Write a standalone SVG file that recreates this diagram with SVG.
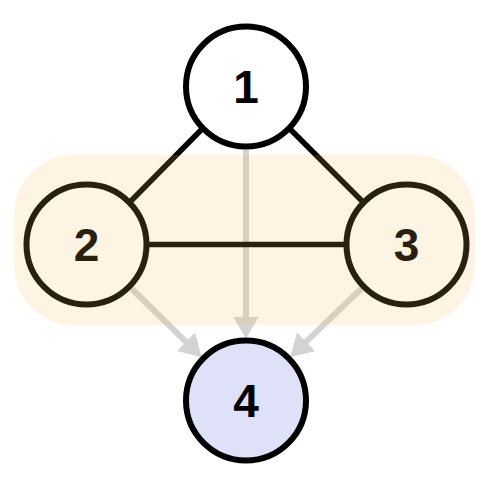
<svg xmlns="http://www.w3.org/2000/svg" width="494" height="492" viewBox="0 0 494 492">
<style>
.node circle{stroke:#000;stroke-width:6}
.node text{font-family:"Liberation Sans",Arial,sans-serif;font-weight:bold;font-size:46px;text-anchor:middle;fill:#000}
.edge{stroke:#000;stroke-width:5.5;fill:none}
.arrow{stroke:#d3d3d3;stroke-width:6;fill:none}
</style>
<defs>
<marker id="ah" viewBox="0 0 22 26" refX="0.5" refY="13" markerWidth="22" markerHeight="26" markerUnits="userSpaceOnUse" orient="auto">
<path d="M0,0 L22,13 L0,26 z" fill="#d3d3d3"/>
</marker>
</defs>
<rect width="494" height="492" fill="#fff"/>
<g id="connectors">
<line class="arrow" x1="246" y1="150" x2="246" y2="317" marker-end="url(#ah)"/>
<line class="arrow" x1="131.5" y1="288.5" x2="186.3" y2="342.1" marker-end="url(#ah)"/>
<line class="arrow" x1="361.5" y1="288.5" x2="305.7" y2="342.1" marker-end="url(#ah)"/>
<line class="edge" x1="202" y1="129" x2="130" y2="202"/>
<line class="edge" x1="290" y1="129" x2="363" y2="202"/>
<line class="edge" x1="147" y1="244.5" x2="346" y2="244.5"/>
</g>
<g id="n1" class="node"><circle cx="246" cy="86.5" r="60" fill="#fff"/><text x="246" y="103">1</text></g>
<g id="n2" class="node"><circle cx="86.5" cy="244.5" r="60" fill="#fff"/><text x="86.5" y="261">2</text></g>
<g id="n3" class="node"><circle cx="406.5" cy="244.5" r="60" fill="#fff"/><text x="406.5" y="261">3</text></g>
<g id="n4" class="node"><circle cx="246" cy="400.5" r="60" fill="#dee1f8"/><text x="246" y="417">4</text></g>
<g id="group">
<rect x="14" y="155" width="461" height="170" rx="60" ry="60" fill="#f5bc5e" fill-opacity="0.17"/>
</g>
</svg>
